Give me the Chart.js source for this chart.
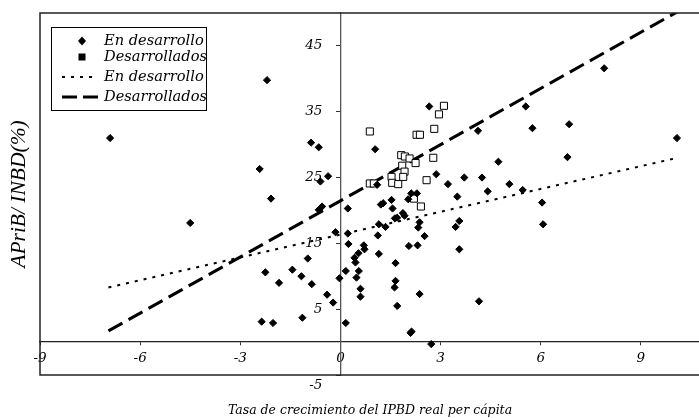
<!DOCTYPE html>
<html>
<head>
<meta charset="utf-8">
<script src="https://cdn.jsdelivr.net/npm/chart.js@4.4.0/dist/chart.umd.min.js"></script>
<style>
    html, body { margin: 0; padding: 0; background: #fff; overflow: hidden; }
    #wrap { width: 699px; height: 418px; overflow: hidden; }
</style>
</head>
<body>
<div id="wrap"><canvas id="myChart" width="707" height="418"></canvas></div>
<script>
// tick values of both axes
const xTicks = [-9, -6, -3, 0, 3, 6, 9];
const yTicks = [-5, 5, 15, 25, 35, 45];

// En desarrollo (rombos)
const devX = [-6.9, -4.5, -2.2, -2.42, -2.08, -0.88, -0.65, -0.6, -0.37, -0.55, -0.65, -0.15,
    -0.98, -2.25, -1.44, -1.17, -1.84, -0.86, -0.03, -0.4, -0.22, -1.14, -2.36, -2.02,
    0.22, 0.22, 0.24, 0.16, 0.16, 0.42, 0.45, 0.54, 0.55, 0.48, 0.6, 0.6, 0.7, 0.72,
    1.04, 1.1, 1.12, 1.15, 1.35, 1.15, 1.21, 1.28, 1.53, 1.56, 1.65, 1.65, 1.62, 1.7,
    1.63, 1.7, 1.87, 1.92, 2.03, 2.12, 2.29, 2.05, 2.31, 2.37, 2.33, 2.52, 2.37, 2.1,
    2.13, 2.72, 2.66, 2.87, 3.22, 3.5, 3.56, 3.45, 3.56, 3.71, 4.12, 4.15, 4.24, 4.41,
    4.73, 5.06, 5.46, 5.55, 5.75, 6.04, 6.07, 6.8, 6.85, 7.9, 10.08];
const devY = [31.0, 18.1, 39.8, 26.3, 21.8, 30.3, 29.6, 24.4, 25.2, 20.6, 20.1, 16.7,
    12.7, 10.6, 11.0, 10.0, 9.0, 8.8, 9.7, 7.2, 6.0, 3.7, 3.1, 2.9,
    20.3, 16.5, 14.9, 10.8, 2.9, 12.8, 12.1, 13.5, 10.8, 9.8, 8.1, 6.9, 14.7, 14.1,
    29.3, 23.9, 16.2, 17.9, 17.5, 13.4, 20.9, 21.1, 21.6, 20.3, 12.0, 9.3, 8.3, 5.5,
    18.8, 18.9, 19.6, 19.2, 21.7, 22.6, 22.6, 14.6, 14.7, 18.2, 17.4, 16.1, 7.3, 1.4,
    1.6, -0.3, 35.8, 25.5, 24.0, 22.1, 18.4, 17.5, 14.1, 25.0, 32.1, 6.2, 25.0, 22.9,
    27.4, 24.0, 23.1, 35.8, 32.5, 21.2, 17.9, 28.1, 33.1, 41.6, 31.0];

// Desarrollados (cuadrados)
const advX = [3.1, 2.95, 2.81, 2.28, 2.38, 0.88, 1.82, 1.93, 2.07, 2.25, 2.78,
    1.85, 1.92, 1.88, 1.53, 1.55, 1.73, 0.88, 1.0, 2.58, 2.2, 2.41];
const advY = [35.9, 34.6, 32.4, 31.5, 31.5, 32.0, 28.4, 28.2, 27.9, 27.2, 28.0,
    26.8, 25.9, 25.1, 25.1, 24.2, 24.0, 24.1, 24.1, 24.6, 21.8, 20.6];

// lineas de tendencia (extremos)
const devLineX = [-6.95, 10.1];
const devLineY = [8.3, 28.0];
const advLineX = [-6.95, 10.1];
const advLineY = [1.7, 50.2];

const legendLabels = ['En desarrollo', 'Desarrollados', 'En desarrollo', 'Desarrollados'];
const xTitle = 'Tasa de crecimiento del IPBD real per cápita';
const yTitle = 'APriB/ INBD(%)';

const serif = 'DejaVu Serif';
const toPts = (xs, ys) => xs.map((x, i) => ({ x: x, y: ys[i] }));

// marco, etiquetas del eje y, leyenda y titulos
const decorPlugin = {
    id: 'decor',
    afterDraw(chart) {
        const ctx = chart.ctx;
        const a = chart.chartArea;
        const xs = chart.scales.x, ys = chart.scales.y;
        ctx.save();

        // marco
        ctx.strokeStyle = '#222';
        ctx.lineWidth = 1.5;
        ctx.beginPath();
        ctx.moveTo(a.right + 4, a.top);
        ctx.lineTo(a.left, a.top);
        ctx.lineTo(a.left, a.bottom);
        ctx.lineTo(a.right + 4, a.bottom);
        ctx.stroke();

        // etiquetas eje y
        const x0 = xs.getPixelForValue(0);
        ctx.fillStyle = '#000';
        ctx.font = 'italic 13.5px "' + serif + '"';
        ctx.textAlign = 'right';
        ctx.textBaseline = 'middle';
        yTicks.forEach(v => {
            let py = ys.getPixelForValue(v);
            if (v === ys.min) py += 10;
            ctx.fillText(String(v), x0 - 18, py);
        });

        // leyenda
        const lx = a.left + 11, ly = a.top + 14;
        ctx.fillStyle = '#fff';
        ctx.fillRect(lx, ly, 155, 83);
        ctx.strokeStyle = '#000';
        ctx.lineWidth = 1;
        ctx.strokeRect(lx + 0.5, ly + 0.5, 155, 83);
        const rows = [14, 30, 50, 70];
        ctx.fillStyle = '#000';
        // rombo
        let cy = ly + rows[0], cx = lx + 31;
        ctx.beginPath();
        ctx.moveTo(cx, cy - 4.5); ctx.lineTo(cx + 4, cy); ctx.lineTo(cx, cy + 4.5); ctx.lineTo(cx - 4, cy);
        ctx.closePath(); ctx.fill();
        // cuadrado
        cy = ly + rows[1];
        ctx.fillRect(cx - 3.5, cy - 3.5, 7, 7);
        // lineas
        ctx.lineWidth = 2;
        ctx.setLineDash([3, 6]);
        ctx.beginPath(); ctx.moveTo(lx + 11, ly + rows[2]); ctx.lineTo(lx + 47, ly + rows[2]); ctx.stroke();
        ctx.lineWidth = 3;
        ctx.setLineDash([15, 6]);
        ctx.beginPath(); ctx.moveTo(lx + 11, ly + rows[3]); ctx.lineTo(lx + 47, ly + rows[3]); ctx.stroke();
        ctx.setLineDash([]);
        ctx.font = 'italic 14.6px "' + serif + '"';
        ctx.textAlign = 'left';
        legendLabels.forEach((t, i) => ctx.fillText(t, lx + 53, ly + rows[i]));

        // titulos
        ctx.font = 'italic 12.5px "' + serif + '"';
        ctx.textAlign = 'center';
        ctx.textBaseline = 'alphabetic';
        ctx.fillText(xTitle, 370, 414);
        ctx.translate(19, (a.top + a.bottom) / 2);
        ctx.rotate(-Math.PI / 2);
        ctx.font = 'italic 21.5px "Liberation Serif"';
        ctx.textBaseline = 'middle';
        ctx.fillText(yTitle, 0, 0);
        ctx.restore();
    }
};

let chart;
function createChart() {
    const ctx = document.getElementById('myChart').getContext('2d');
    chart = new Chart(ctx, {
        type: 'scatter',
        data: {
            datasets: [
                {
                    label: legendLabels[0],
                    data: toPts(devX, devY),
                    pointStyle: 'rectRot',
                    pointRadius: 3.6,
                    backgroundColor: '#000',
                    borderColor: '#000',
                    borderWidth: 1
                },
                {
                    label: legendLabels[1],
                    data: toPts(advX, advY),
                    pointStyle: 'rect',
                    pointRadius: 5,
                    backgroundColor: '#fff',
                    borderColor: '#000',
                    borderWidth: 1
                },
                {
                    label: legendLabels[2],
                    data: toPts(devLineX, devLineY),
                    showLine: true,
                    pointRadius: 0,
                    borderColor: '#000',
                    borderWidth: 2,
                    borderDash: [3, 6]
                },
                {
                    label: legendLabels[3],
                    data: toPts(advLineX, advLineY),
                    showLine: true,
                    pointRadius: 0,
                    borderColor: '#000',
                    borderWidth: 3,
                    borderDash: [16, 7]
                }
            ]
        },
        options: {
            responsive: false,
            animation: false,
            layout: { padding: { left: 40, top: 13, right: 0, bottom: 43 } },
            plugins: { legend: { display: false }, tooltip: { enabled: false } },
            scales: {
                x: {
                    type: 'linear',
                    min: -9,
                    max: 10.8,
                    position: { y: 0 },
                    afterBuildTicks: s => { s.ticks = xTicks.map(v => ({ value: v })); },
                    grid: { drawOnChartArea: false, drawTicks: true, tickLength: 3, color: '#333' },
                    border: { display: true, color: '#222', width: 1.3 },
                    ticks: {
                        color: '#000',
                        padding: 5,
                        maxRotation: 0,
                        autoSkip: false,
                        font: { family: serif, style: 'italic', size: 13.5 }
                    }
                },
                y: {
                    type: 'linear',
                    min: -5,
                    max: 50,
                    position: { x: 0 },
                    afterBuildTicks: s => { s.ticks = yTicks.map(v => ({ value: v })); },
                    grid: { drawOnChartArea: false, drawTicks: true, tickLength: 4, color: '#333' },
                    border: { display: true, color: '#555', width: 1.3 },
                    ticks: { display: false }
                }
            }
        },
        plugins: [decorPlugin]
    });
}

document.addEventListener('DOMContentLoaded', createChart);
</script>
</body>
</html>
